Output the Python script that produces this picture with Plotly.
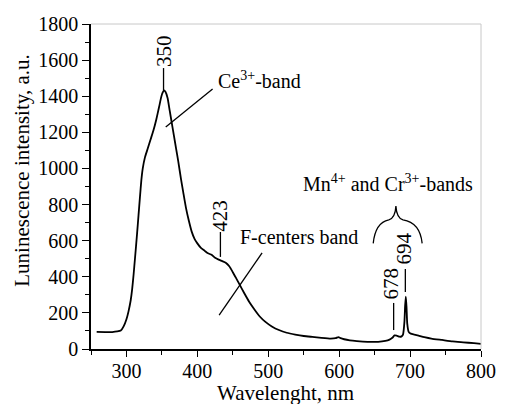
import plotly.graph_objects as go

# Data
wavelength = [258, 270, 280, 287, 292, 296, 300, 303, 306, 308,
              310, 312, 315, 317, 319, 321, 323, 326, 330, 334,
              338, 342, 346, 349, 351, 353, 355, 358, 361, 364,
              367, 370, 373, 377, 380, 384, 388, 392, 396, 400,
              405, 410, 415, 420, 425, 430, 435, 440, 445, 450,
              455, 460, 466, 473, 480, 488, 496, 505, 515, 526,
              538, 550, 562, 575, 588, 595, 599, 602, 607, 615,
              625, 640, 655, 665, 671, 675, 678, 681, 685, 688,
              690, 692, 693, 694, 695, 696, 698, 701, 706, 712,
              720, 730, 745, 760, 775, 790, 800]
intensity = [95, 94, 94, 97, 102, 125, 165, 210, 270, 330,
             410, 500, 640, 740, 840, 935, 1000, 1060, 1110, 1160,
             1210, 1270, 1340, 1395, 1420, 1432, 1425, 1390, 1320, 1250,
             1180, 1110, 1040, 940, 870, 780, 710, 650, 610, 585,
             560, 545, 530, 522, 505, 495, 487, 478, 458, 425,
             390, 354, 310, 262, 222, 180, 150, 125, 105, 90,
             80, 72, 67, 62, 58, 60, 66, 60, 54, 48,
             44, 40, 40, 45, 52, 62, 75, 74, 68, 70,
             80, 150, 240, 290, 230, 140, 95, 85, 80, 74,
             66, 58, 50, 42, 37, 32, 28]

x_ticks = [300, 400, 500, 600, 700, 800]
y_ticks = [0, 200, 400, 600, 800, 1000, 1200, 1400, 1600, 1800]

FONT = "Liberation Serif"

fig = go.Figure()
fig.add_trace(go.Scatter(x=wavelength, y=intensity, mode="lines",
                         line=dict(color="black", width=1.8, shape="spline", smoothing=0.5),
                         hoverinfo="skip", showlegend=False))

fig.update_layout(
    width=508, height=404,
    margin=dict(l=91, r=17, t=24, b=55),
    paper_bgcolor="white", plot_bgcolor="white",
    font=dict(family=FONT, size=20, color="black"),
    showlegend=False,
)
fig.update_xaxes(range=[250, 800], tickvals=x_ticks, ticks="outside", ticklen=6, tickwidth=1.3,
                 tickcolor="black", showline=True, linecolor="black", linewidth=1.5,
                 showgrid=False, zeroline=False, ticklabelstandoff=-3,
                 minor=dict(dtick=50, tick0=250, ticks="outside", ticklen=4, tickwidth=1.3, tickcolor="black"),
                 tickfont=dict(family=FONT, size=20))
fig.update_yaxes(range=[0, 1800], tickvals=y_ticks, ticks="outside", ticklen=7, tickwidth=1.3,
                 tickcolor="black", showline=True, linecolor="black", linewidth=1.5,
                 showgrid=False, zeroline=False,
                 minor=dict(dtick=100, tick0=0, ticks="outside", ticklen=4, tickwidth=1.3, tickcolor="black"),
                 tickfont=dict(family=FONT, size=20))

shapes = []
# light grey frame top and right
shapes.append(dict(type="line", xref="paper", yref="paper", x0=0, x1=1, y0=1, y1=1,
                   line=dict(color="#c8c8c8", width=1)))
shapes.append(dict(type="line", xref="paper", yref="paper", x0=1, x1=1, y0=0, y1=1,
                   line=dict(color="#c8c8c8", width=1)))

def seg(x0, y0, x1, y1, w=1.3):
    shapes.append(dict(type="line", xref="x", yref="y", x0=x0, y0=y0, x1=x1, y1=y1,
                       line=dict(color="black", width=w)))

# peak marker lines
seg(352.3, 1556, 352.3, 1434)
seg(432.5, 648, 432.5, 510)
seg(676.8, 255, 676.8, 105)
seg(693.3, 443, 693.3, 316)
# leader lines
seg(421.5, 1440, 355.4, 1229)
seg(430.7, 188, 491.3, 533)
# brace
shapes.append(dict(type="path", xref="x", yref="y",
                   path="M 648,585 Q 651,700 670,715 Q 679,725 680,792 Q 681,725 690,715 Q 714,700 717,585",
                   line=dict(color="black", width=1.3)))

annotations = [
    dict(x=-0.1775, y=0.5477, xref="paper", yref="paper", text="Luninescence intensity, a.u.",
         textangle=-90, showarrow=False, font=dict(family=FONT, size=21), xanchor="center", yanchor="middle"),
    dict(x=0.4988, y=-0.134, xref="paper", yref="paper", text="Wavelenght, nm",
         showarrow=False, font=dict(family=FONT, size=21), xanchor="center", yanchor="middle"),
    dict(x=352.8, y=1650, text="350", textangle=-90, showarrow=False, font=dict(family=FONT, size=21)),
    dict(x=431.5, y=736, text="423", textangle=-90, showarrow=False, font=dict(family=FONT, size=21)),
    dict(x=672.5, y=360, text="678", textangle=-90, showarrow=False, font=dict(family=FONT, size=21)),
    dict(x=692.0, y=559, text="694", textangle=-90, showarrow=False, font=dict(family=FONT, size=21)),
    dict(x=487.6, y=1490, text="Ce<sup>3+</sup>-band", showarrow=False, font=dict(family=FONT, size=20)),
    dict(x=544, y=620, text="F-centers band", showarrow=False, font=dict(family=FONT, size=20)),
    dict(x=668.7, y=919, text="Mn<sup>4+</sup> and Cr<sup>3+</sup>-bands", showarrow=False,
         font=dict(family=FONT, size=20)),
]
fig.update_layout(shapes=shapes, annotations=annotations)

fig.write_html("out.html")
